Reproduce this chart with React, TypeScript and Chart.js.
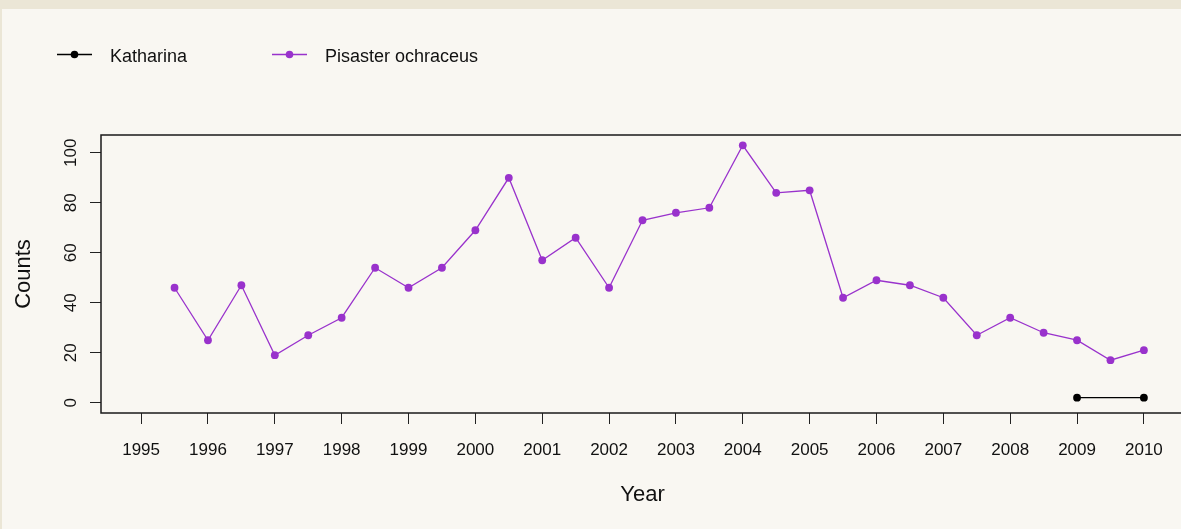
import React, { useEffect, useRef } from "react";
import { Chart, registerables } from "chart.js";

Chart.register(...registerables);

// ---- Data ----
const pisasterYears = [
  1995.5, 1996, 1996.5, 1997, 1997.5, 1998, 1998.5, 1999, 1999.5, 2000,
  2000.5, 2001, 2001.5, 2002, 2002.5, 2003, 2003.5, 2004, 2004.5, 2005,
  2005.5, 2006, 2006.5, 2007, 2007.5, 2008, 2008.5, 2009, 2009.5, 2010,
];
const pisasterCounts = [
  46, 25, 47, 19, 27, 34, 54, 46, 54, 69,
  90, 57, 66, 46, 73, 76, 78, 103, 84, 85,
  42, 49, 47, 42, 27, 34, 28, 25, 17, 21,
];
const katharinaYears = [2009, 2010];
const katharinaCounts = [2, 2];

const xTickValues = [
  1995, 1996, 1997, 1998, 1999, 2000, 2001, 2002,
  2003, 2004, 2005, 2006, 2007, 2008, 2009, 2010,
];
const yTickValues = [0, 20, 40, 60, 80, 100];

const seriesNames = ["Katharina", "Pisaster ochraceus"];
const seriesColors = ["#000000", "#9932CC"];

const FONT = "'Liberation Sans', Arial, sans-serif";

const legendPlugin = {
  id: "rLegend",
  afterDraw(chart: any) {
    const ctx = chart.ctx;
    const items = [
      { lineX: 57, textX: 110 },
      { lineX: 272, textX: 325 },
    ];
    ctx.save();
    chart.data.datasets.forEach((ds: any, i: number) => {
      const it = items[i];
      const y = 54.5;
      ctx.strokeStyle = ds.borderColor;
      ctx.lineWidth = 1.3;
      ctx.beginPath();
      ctx.moveTo(it.lineX, y);
      ctx.lineTo(it.lineX + 35, y);
      ctx.stroke();
      ctx.fillStyle = ds.borderColor;
      ctx.beginPath();
      ctx.arc(it.lineX + 17.5, y, 3.8, 0, Math.PI * 2);
      ctx.fill();
      ctx.fillStyle = "#111";
      ctx.font = `18px ${FONT}`;
      ctx.textBaseline = "alphabetic";
      ctx.textAlign = "left";
      ctx.fillText(ds.label, it.textX, 61.5);
    });
    ctx.restore();
  },
};

const boxPlugin = {
  id: "rBox",
  afterDatasetsDraw(chart: any) {
    const { left, top, right, bottom } = chart.chartArea;
    const ctx = chart.ctx;
    ctx.save();
    ctx.strokeStyle = "#1a1a1a";
    ctx.lineWidth = 1.5;
    ctx.strokeRect(left, top, right - left, bottom - top);
    ctx.restore();
  },
};

export default function App() {
  const ref = useRef<HTMLCanvasElement>(null);

  useEffect(() => {
    if (!ref.current) return;
    const chart = new Chart(ref.current, {
      type: "line",
      data: {
        datasets: [
          {
            label: seriesNames[0],
            data: katharinaYears.map((x, i) => ({ x, y: katharinaCounts[i] })),
            borderColor: seriesColors[0],
            backgroundColor: seriesColors[0],
            borderWidth: 1.3,
            pointRadius: 3.9,
            pointBorderWidth: 0,
            pointBackgroundColor: seriesColors[0],
          },
          {
            label: seriesNames[1],
            data: pisasterYears.map((x, i) => ({ x, y: pisasterCounts[i] })),
            borderColor: seriesColors[1],
            backgroundColor: seriesColors[1],
            borderWidth: 1.3,
            pointRadius: 3.9,
            pointBorderWidth: 0,
            pointBackgroundColor: seriesColors[1],
          },
        ],
      },
      options: {
        responsive: false,
        animation: false,
        devicePixelRatio: 1,
        layout: { padding: { top: 135, right: 16, left: 0, bottom: 0 } },
        plugins: {
          legend: { display: false },
          tooltip: { enabled: false },
        },
        scales: {
          x: {
            type: "linear",
            min: 1994.4,
            max: 2010.6,
            afterFit(scale: any) {
              scale.height = 116;
            },
            afterBuildTicks(scale: any) {
              scale.ticks = xTickValues.map((v) => ({ value: v }));
            },
            grid: {
              drawOnChartArea: false,
              drawTicks: true,
              tickLength: 11,
              color: "#222",
              lineWidth: 1,
            },
            border: { display: false },
            ticks: {
              color: "#111",
              font: { size: 17, family: FONT },
              padding: 16,
              maxRotation: 0,
              minRotation: 0,
              autoSkip: false,
              callback: (v: any) => String(v),
            },
            title: {
              display: true,
              text: "Year",
              color: "#111",
              font: { size: 22, family: FONT },
              padding: { top: 0, bottom: 21 },
            },
          },
          y: {
            type: "linear",
            min: -4.12,
            max: 107.12,
            afterFit(scale: any) {
              scale.width = 101;
            },
            afterBuildTicks(scale: any) {
              scale.ticks = yTickValues.map((v) => ({ value: v }));
            },
            grid: {
              drawOnChartArea: false,
              drawTicks: true,
              tickLength: 11,
              color: "#222",
              lineWidth: 1,
            },
            border: { display: false },
            ticks: {
              color: "#111",
              font: { size: 17, family: FONT },
              padding: 4.5,
              minRotation: 90,
              maxRotation: 90,
              crossAlign: "center",
              autoSkip: false,
              callback: (v: any) => String(v),
            },
            title: {
              display: true,
              text: "Counts",
              color: "#111",
              font: { size: 22, family: FONT },
              padding: { top: 11, bottom: 0 },
            },
          },
        },
      },
      plugins: [boxPlugin, legendPlugin],
    } as any);
    return () => chart.destroy();
  }, []);

  return (
    <div
      style={{
        position: "fixed",
        left: 0,
        top: 0,
        width: 1181,
        height: 529,
        overflow: "hidden",
        background: "#f9f7f2",
      }}
    >
      <div style={{ position: "absolute", left: 0, top: 0, width: 1181, height: 9, background: "#ebe6d6" }} />
      <div style={{ position: "absolute", left: 0, top: 0, width: 2, height: 529, background: "#ebe6d6" }} />
      <canvas
        ref={ref}
        width={1200}
        height={529}
        style={{ position: "absolute", left: 0, top: 0, width: 1200, height: 529 }}
      />
    </div>
  );
}
